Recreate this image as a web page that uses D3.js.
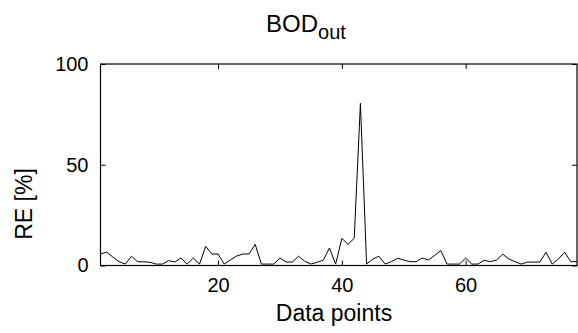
<!DOCTYPE html>
<html>
<head>
<meta charset="utf-8">
<script src="https://cdn.jsdelivr.net/npm/d3@7"></script>
<style>
  html, body { margin: 0; padding: 0; background: #fff; }
  svg text { font-family: "Liberation Sans", Arial, Helvetica, sans-serif; fill: #000; }
</style>
</head>
<body>
<div id="chart"></div>
<script>
// relative error per data point
const re = [
  5.7, 6.6, 4.2, 1.9, 0.7, 4.6, 1.9, 1.8, 1.6, 0.7,
  0.7, 2.4, 1.7, 3.7, 0.7, 3.7, 0.7, 9.5, 5.7, 5.7,
  0.7, 2.8, 4.7, 5.7, 5.7, 10.5, 0.7, 0.7, 0.7, 3.7,
  1.7, 1.7, 4.6, 2.1, 0.7, 1.6, 2.6, 8.7, 0.7, 13.5,
  10.5, 13.5, 80.5, 0.7, 3.2, 4.6, 0.7, 1.9, 3.6, 2.7,
  1.9, 1.9, 3.7, 2.7, 5.0, 7.4, 0.7, 0.7, 0.7, 3.7,
  0.7, 0.7, 2.6, 1.9, 2.7, 5.6, 3.2, 1.9, 0.7, 1.7,
  1.7, 1.7, 6.6, 0.7, 3.2, 6.6, 1.9, 1.9
];
const xTicks = [20, 40, 60];
const yTicks = [0, 50, 100];

const width = 578, height = 333;
const margin = { top: 64, right: 1, bottom: 67.5, left: 100.5 };
const innerW = width - margin.left - margin.right;
const innerH = height - margin.top - margin.bottom;

const svg = d3.select('#chart').append('svg')
  .attr('width', width)
  .attr('height', height);

const x = d3.scaleLinear().domain([1, re.length]).range([0, innerW]);
const y = d3.scaleLinear().domain([0, 100]).range([innerH, 0]);

const g = svg.append('g')
  .attr('transform', 'translate(' + margin.left + ',' + margin.top + ')');

g.append('clipPath').attr('id', 'clip')
  .append('rect').attr('width', innerW).attr('height', innerH);

// data line
g.append('path')
  .datum(re)
  .attr('clip-path', 'url(#clip)')
  .attr('fill', 'none')
  .attr('stroke', '#000')
  .attr('stroke-width', 1)
  .attr('d', d3.line().x((d, i) => x(i + 1)).y(d => y(d)));

// axes, ticks pointing inward like matlab
const tickLen = 5;
const styleAxis = sel => {
  sel.select('.domain').remove();
  sel.selectAll('.tick line').attr('stroke', '#000');
  sel.selectAll('.tick text').style('font-size', '20px');
};

g.append('g')
  .attr('transform', 'translate(0,' + innerH + ')')
  .call(d3.axisBottom(x).tickValues(xTicks).tickSizeInner(-tickLen).tickPadding(12))
  .call(styleAxis);

g.append('g')
  .call(d3.axisTop(x).tickValues(xTicks).tickSizeInner(-tickLen).tickFormat(''))
  .call(styleAxis);

g.append('g')
  .call(d3.axisLeft(y).tickValues(yTicks).tickSizeInner(-tickLen).tickPadding(12))
  .call(styleAxis);

g.append('g')
  .attr('transform', 'translate(' + innerW + ',0)')
  .call(d3.axisRight(y).tickValues(yTicks).tickSizeInner(-tickLen).tickFormat(''))
  .call(styleAxis);

// box
g.append('rect')
  .attr('width', innerW)
  .attr('height', innerH)
  .attr('fill', 'none')
  .attr('stroke', '#000')
  .attr('stroke-width', 1.2);

// labels
const title = svg.append('text')
  .attr('x', 266)
  .attr('y', 32)
  .style('font-size', '24px');
title.append('tspan').text('BOD');
title.append('tspan').attr('dy', 7).style('font-size', '20px').text('out');

svg.append('text')
  .attr('x', 334)
  .attr('y', 321)
  .attr('text-anchor', 'middle')
  .style('font-size', '23px')
  .text('Data points');

svg.append('text')
  .attr('transform', 'translate(32,204) rotate(-90)')
  .attr('text-anchor', 'middle')
  .style('font-size', '23px')
  .text('RE [%]');
</script>
</body>
</html>
